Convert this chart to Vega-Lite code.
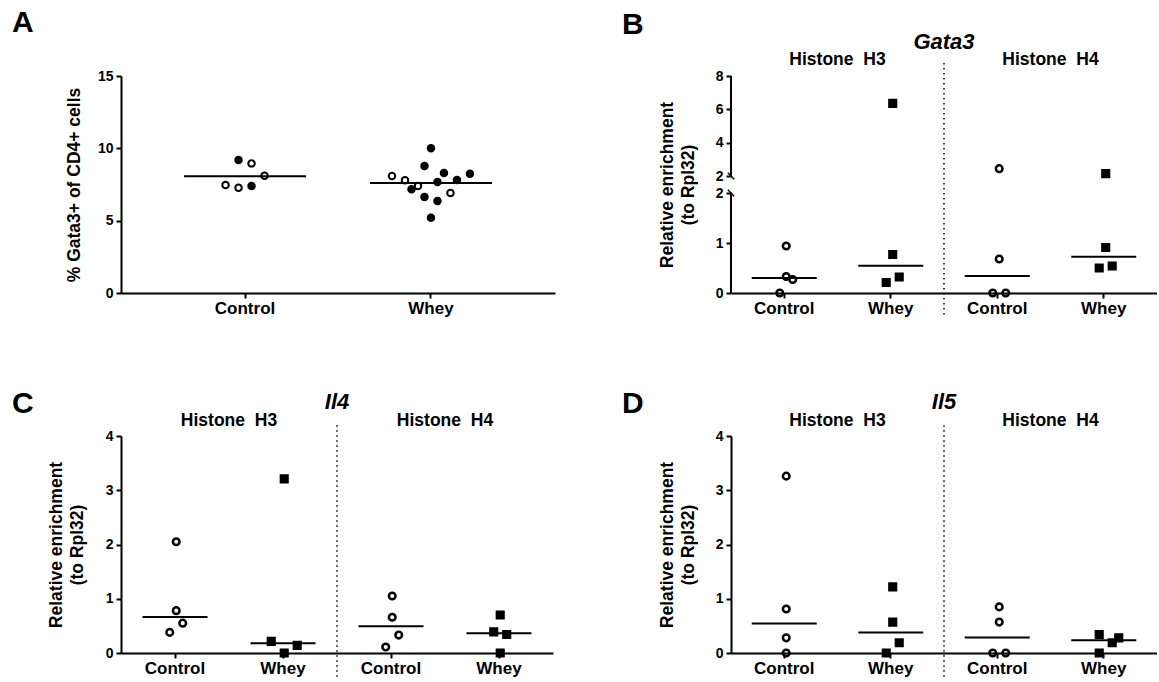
{
  "$schema": "https://vega.github.io/schema/vega-lite/v6.json",
  "background": "white",
  "padding": {"left": 12, "top": 8, "right": 0, "bottom": 0},
  "bounds": "flush",
  "columns": 2,
  "spacing": {"row": 143, "column": 176},
  "datasets": {
    "pct": [
      {"group": "Control", "cohort": "filled", "slot": -1, "pct": 9.19},
      {"group": "Control", "cohort": "open", "slot": 1, "pct": 8.96},
      {"group": "Control", "cohort": "open", "slot": 3, "pct": 8.11},
      {"group": "Control", "cohort": "open", "slot": -3, "pct": 7.47},
      {"group": "Control", "cohort": "open", "slot": -1, "pct": 7.28},
      {"group": "Control", "cohort": "filled", "slot": 1, "pct": 7.40},
      {"group": "Whey", "cohort": "filled", "slot": 0, "pct": 10.0},
      {"group": "Whey", "cohort": "filled", "slot": -1, "pct": 8.78},
      {"group": "Whey", "cohort": "filled", "slot": 2, "pct": 8.29},
      {"group": "Whey", "cohort": "filled", "slot": 6, "pct": 8.25},
      {"group": "Whey", "cohort": "open", "slot": -6, "pct": 8.09},
      {"group": "Whey", "cohort": "open", "slot": -4, "pct": 7.79},
      {"group": "Whey", "cohort": "open", "slot": -2, "pct": 7.40},
      {"group": "Whey", "cohort": "filled", "slot": -3, "pct": 7.17},
      {"group": "Whey", "cohort": "filled", "slot": 1, "pct": 7.67},
      {"group": "Whey", "cohort": "filled", "slot": 4, "pct": 7.81},
      {"group": "Whey", "cohort": "open", "slot": 3, "pct": 6.91},
      {"group": "Whey", "cohort": "filled", "slot": -1, "pct": 6.64},
      {"group": "Whey", "cohort": "filled", "slot": 1, "pct": 6.36},
      {"group": "Whey", "cohort": "filled", "slot": 0, "pct": 5.21}
    ],
    "gata3": [
      {"cond": "H3 Control", "trt": "Control", "slot": 0, "rel": 0.94},
      {"cond": "H3 Control", "trt": "Control", "slot": 0, "rel": 0.33},
      {"cond": "H3 Control", "trt": "Control", "slot": 1, "rel": 0.27},
      {"cond": "H3 Control", "trt": "Control", "slot": -1, "rel": 0.0},
      {"cond": "H3 Whey", "trt": "Whey", "slot": 0, "rel": 6.36},
      {"cond": "H3 Whey", "trt": "Whey", "slot": 0, "rel": 0.77},
      {"cond": "H3 Whey", "trt": "Whey", "slot": 1, "rel": 0.32},
      {"cond": "H3 Whey", "trt": "Whey", "slot": -1, "rel": 0.21},
      {"cond": "H4 Control", "trt": "Control", "slot": 0, "rel": 2.44},
      {"cond": "H4 Control", "trt": "Control", "slot": 0, "rel": 0.68},
      {"cond": "H4 Control", "trt": "Control", "slot": -1, "rel": 0.0},
      {"cond": "H4 Control", "trt": "Control", "slot": 1, "rel": 0.0},
      {"cond": "H4 Whey", "trt": "Whey", "slot": 0, "rel": 2.14},
      {"cond": "H4 Whey", "trt": "Whey", "slot": 0, "rel": 0.91},
      {"cond": "H4 Whey", "trt": "Whey", "slot": -1, "rel": 0.50},
      {"cond": "H4 Whey", "trt": "Whey", "slot": 1, "rel": 0.54}
    ],
    "il4": [
      {"cond": "H3 Control", "trt": "Control", "slot": 0, "rel": 2.05},
      {"cond": "H3 Control", "trt": "Control", "slot": 0, "rel": 0.78},
      {"cond": "H3 Control", "trt": "Control", "slot": 1, "rel": 0.55},
      {"cond": "H3 Control", "trt": "Control", "slot": -1, "rel": 0.38},
      {"cond": "H3 Whey", "trt": "Whey", "slot": 0, "rel": 3.21},
      {"cond": "H3 Whey", "trt": "Whey", "slot": -2, "rel": 0.215},
      {"cond": "H3 Whey", "trt": "Whey", "slot": 2, "rel": 0.14},
      {"cond": "H3 Whey", "trt": "Whey", "slot": 0, "rel": 0.0},
      {"cond": "H4 Control", "trt": "Control", "slot": 0, "rel": 1.05},
      {"cond": "H4 Control", "trt": "Control", "slot": 0, "rel": 0.66},
      {"cond": "H4 Control", "trt": "Control", "slot": 1, "rel": 0.33},
      {"cond": "H4 Control", "trt": "Control", "slot": -1, "rel": 0.11},
      {"cond": "H4 Whey", "trt": "Whey", "slot": 0, "rel": 0.70},
      {"cond": "H4 Whey", "trt": "Whey", "slot": -1, "rel": 0.39},
      {"cond": "H4 Whey", "trt": "Whey", "slot": 1, "rel": 0.34},
      {"cond": "H4 Whey", "trt": "Whey", "slot": 0, "rel": 0.0}
    ],
    "il5": [
      {"cond": "H3 Control", "trt": "Control", "slot": 0, "rel": 3.26},
      {"cond": "H3 Control", "trt": "Control", "slot": 0, "rel": 0.81},
      {"cond": "H3 Control", "trt": "Control", "slot": 0, "rel": 0.28},
      {"cond": "H3 Control", "trt": "Control", "slot": 0, "rel": 0.0},
      {"cond": "H3 Whey", "trt": "Whey", "slot": 0, "rel": 1.22},
      {"cond": "H3 Whey", "trt": "Whey", "slot": 0, "rel": 0.57},
      {"cond": "H3 Whey", "trt": "Whey", "slot": 1, "rel": 0.19},
      {"cond": "H3 Whey", "trt": "Whey", "slot": -1, "rel": 0.0},
      {"cond": "H4 Control", "trt": "Control", "slot": 0, "rel": 0.85},
      {"cond": "H4 Control", "trt": "Control", "slot": 0, "rel": 0.57},
      {"cond": "H4 Control", "trt": "Control", "slot": -1, "rel": 0.0},
      {"cond": "H4 Control", "trt": "Control", "slot": 1, "rel": 0.0},
      {"cond": "H4 Whey", "trt": "Whey", "slot": -1, "rel": 0.34},
      {"cond": "H4 Whey", "trt": "Whey", "slot": 1, "rel": 0.19},
      {"cond": "H4 Whey", "trt": "Whey", "slot": 2, "rel": 0.28},
      {"cond": "H4 Whey", "trt": "Whey", "slot": -1, "rel": 0.0}
    ],
    "headers": [
      {"h": "Histone\u00a0 H3", "at": "H3 Whey"},
      {"h": "Histone\u00a0 H4", "at": "H4 Whey"}
    ]
  },
  "concat": [
    {
      "width": 434,
      "height": 217,
      "title": {"text": "A", "dx": -109, "dy": -27},
      "data": {"name": "pct"},
      "layer": [
        {
          "mark": {"type": "tick", "color": "#000", "thickness": 2, "size": 122},
          "encoding": {
            "x": {"field": "group", "type": "nominal", "title": null, "scale": {"domain": ["Control", "Whey"], "paddingInner": 0.406, "paddingOuter": 0.37}},
            "y": {"aggregate": "mean", "field": "pct", "type": "quantitative", "title": "% Gata3+ of CD4+ cells", "scale": {"domain": [0, 15], "nice": false}, "axis": {"values": [0, 5, 10, 15], "titlePadding": 14}}
          }
        },
        {
          "mark": {"type": "point", "shape": "circle", "size": 42, "stroke": "#000", "strokeWidth": 2, "opacity": 1},
          "encoding": {
            "x": {"field": "group", "type": "nominal", "title": null},
            "xOffset": {"field": "slot", "type": "ordinal", "scale": {"type": "point", "domain": [-8, -7, -6, -5, -4, -3, -2, -1, 0, 1, 2, 3, 4, 5, 6, 7, 8], "padding": 0.5}},
            "y": {"field": "pct", "type": "quantitative", "title": "% Gata3+ of CD4+ cells"},
            "fill": {"field": "cohort", "type": "nominal", "scale": {"domain": ["open", "filled"], "range": ["transparent", "#000"]}, "legend": null}
          }
        }
      ]
    },
    {
      "width": 426,
      "height": 217,
      "title": {"text": "B", "dx": -109, "dy": 13},
      "layer": [
        {
          "data": {"name": "gata3"},
          "mark": {"type": "tick", "color": "#000", "thickness": 2, "size": 65},
          "encoding": {
            "x": {"field": "cond", "type": "nominal", "title": null, "scale": {"domain": ["H3 Control", "H3 Whey", "H4 Control", "H4 Whey"], "paddingInner": 0, "paddingOuter": 0}, "axis": {"labelExpr": "split(datum.label, ' ')[1]"}},
            "y": {"aggregate": "median", "field": "rel", "type": "quantitative", "title": ["Relative enrichment", "(to Rpl32)"], "scale": {"domain": [0, 2, 2.0001, 8], "range": [217, 117, 100, 0], "nice": false, "zero": false}, "axis": {"values": [0, 1, 2, 2.0001, 4, 6, 8], "tickCount": 20, "format": "d", "domain": false, "titlePadding": 18}}
          }
        },
        {
          "data": {"name": "gata3"},
          "mark": {"type": "point", "size": 44, "stroke": "#000", "strokeWidth": 2.5, "opacity": 1},
          "encoding": {
            "x": {"field": "cond", "type": "nominal", "title": null},
            "xOffset": {"field": "slot", "type": "ordinal", "scale": {"type": "point", "domain": [-8, -7, -6, -5, -4, -3, -2, -1, 0, 1, 2, 3, 4, 5, 6, 7, 8], "padding": 0.5}},
            "y": {"field": "rel", "type": "quantitative", "title": ["Relative enrichment", "(to Rpl32)"]},
            "shape": {"field": "trt", "type": "nominal", "scale": {"domain": ["Control", "Whey"], "range": ["circle", "square"]}, "legend": null},
            "fill": {"field": "trt", "type": "nominal", "scale": {"domain": ["Control", "Whey"], "range": ["transparent", "#000"]}, "legend": null}
          }
        },
        {
          "data": {"values": [{}]},
          "mark": {"type": "rule", "color": "#000", "strokeWidth": 2},
          "encoding": {
            "x": {"datum": "H3 Control", "type": "nominal", "bandPosition": 0},
            "y": {"datum": 0, "type": "quantitative"},
            "y2": {"datum": 2}
          }
        },
        {
          "data": {"values": [{}]},
          "mark": {"type": "rule", "color": "#000", "strokeWidth": 2},
          "encoding": {
            "x": {"datum": "H3 Control", "type": "nominal", "bandPosition": 0},
            "y": {"datum": 2.0001, "type": "quantitative"},
            "y2": {"datum": 8}
          }
        },
        {
          "data": {"values": [{}]},
          "mark": {"type": "point", "shape": "M-1,-1L1,1", "size": 40, "stroke": "#000", "strokeWidth": 1.5, "filled": false, "opacity": 1},
          "encoding": {
            "x": {"datum": "H3 Control", "type": "nominal", "bandPosition": 0},
            "y": {"datum": 2.0001, "type": "quantitative"}
          }
        },
        {
          "data": {"values": [{}]},
          "mark": {"type": "point", "shape": "M-1,-1L1,1", "size": 40, "stroke": "#000", "strokeWidth": 1.5, "filled": false, "opacity": 1},
          "encoding": {
            "x": {"datum": "H3 Control", "type": "nominal", "bandPosition": 0},
            "y": {"datum": 2, "type": "quantitative"}
          }
        },
        {
          "data": {"values": [{}]},
          "mark": {"type": "rule", "color": "#000", "strokeWidth": 1.5, "strokeDash": [1.5, 3.5]},
          "encoding": {
            "x": {"datum": "H4 Control", "type": "nominal", "bandPosition": 0},
            "y": {"datum": 8.78, "type": "quantitative"},
            "y2": {"datum": -0.5}
          }
        },
        {
          "data": {"name": "headers"},
          "mark": {"type": "text", "font": "Liberation Sans", "fontWeight": "bold", "fontSize": 17.5, "color": "#000", "align": "center", "baseline": "alphabetic"},
          "encoding": {
            "x": {"field": "at", "type": "nominal", "bandPosition": 0, "title": null},
            "y": {"datum": 8.66, "type": "quantitative"},
            "text": {"field": "h"}
          }
        },
        {
          "data": {"values": [{"gene": "Gata3"}]},
          "mark": {"type": "text", "font": "Liberation Sans", "fontWeight": "bold", "fontStyle": "italic", "fontSize": 22, "color": "#000", "align": "center", "baseline": "alphabetic"},
          "encoding": {
            "x": {"datum": "H4 Control", "type": "nominal", "bandPosition": 0},
            "y": {"datum": 9.62, "type": "quantitative"},
            "text": {"field": "gene"}
          }
        }
      ]
    },
    {
      "width": 432,
      "height": 217,
      "title": {"text": "C", "dx": -109, "dy": 32},
      "layer": [
        {
          "data": {"name": "il4"},
          "mark": {"type": "tick", "color": "#000", "thickness": 2, "size": 65},
          "encoding": {
            "x": {"field": "cond", "type": "nominal", "title": null, "scale": {"domain": ["H3 Control", "H3 Whey", "H4 Control", "H4 Whey"], "paddingInner": 0, "paddingOuter": 0}, "axis": {"labelExpr": "split(datum.label, ' ')[1]"}},
            "y": {"aggregate": "median", "field": "rel", "type": "quantitative", "title": ["Relative enrichment", "(to Rpl32)"], "scale": {"domain": [0, 4], "nice": false}, "axis": {"values": [0, 1, 2, 3, 4], "format": "d", "titlePadding": 19}}
          }
        },
        {
          "data": {"name": "il4"},
          "mark": {"type": "point", "size": 44, "stroke": "#000", "strokeWidth": 2.5, "opacity": 1},
          "encoding": {
            "x": {"field": "cond", "type": "nominal", "title": null},
            "xOffset": {"field": "slot", "type": "ordinal", "scale": {"type": "point", "domain": [-8, -7, -6, -5, -4, -3, -2, -1, 0, 1, 2, 3, 4, 5, 6, 7, 8], "padding": 0.5}},
            "y": {"field": "rel", "type": "quantitative", "title": ["Relative enrichment", "(to Rpl32)"]},
            "shape": {"field": "trt", "type": "nominal", "scale": {"domain": ["Control", "Whey"], "range": ["circle", "square"]}, "legend": null},
            "fill": {"field": "trt", "type": "nominal", "scale": {"domain": ["Control", "Whey"], "range": ["transparent", "#000"]}, "legend": null}
          }
        },
        {
          "data": {"values": [{}]},
          "mark": {"type": "rule", "color": "#000", "strokeWidth": 1.5, "strokeDash": [1.5, 3.5]},
          "encoding": {
            "x": {"datum": "H4 Control", "type": "nominal", "bandPosition": 0},
            "y": {"datum": 4.2, "type": "quantitative"},
            "y2": {"datum": -0.5}
          }
        },
        {
          "data": {"name": "headers"},
          "mark": {"type": "text", "font": "Liberation Sans", "fontWeight": "bold", "fontSize": 17.5, "color": "#000", "align": "center", "baseline": "alphabetic"},
          "encoding": {
            "x": {"field": "at", "type": "nominal", "bandPosition": 0, "title": null},
            "y": {"datum": 4.18, "type": "quantitative"},
            "text": {"field": "h"}
          }
        },
        {
          "data": {"values": [{"gene": "Il4"}]},
          "mark": {"type": "text", "font": "Liberation Sans", "fontWeight": "bold", "fontStyle": "italic", "fontSize": 22, "color": "#000", "align": "center", "baseline": "alphabetic"},
          "encoding": {
            "x": {"datum": "H4 Control", "type": "nominal", "bandPosition": 0},
            "y": {"datum": 4.5, "type": "quantitative"},
            "text": {"field": "gene"}
          }
        }
      ]
    },
    {
      "width": 426,
      "height": 217,
      "title": {"text": "D", "dx": -109, "dy": 32},
      "layer": [
        {
          "data": {"name": "il5"},
          "mark": {"type": "tick", "color": "#000", "thickness": 2, "size": 65},
          "encoding": {
            "x": {"field": "cond", "type": "nominal", "title": null, "scale": {"domain": ["H3 Control", "H3 Whey", "H4 Control", "H4 Whey"], "paddingInner": 0, "paddingOuter": 0}, "axis": {"labelExpr": "split(datum.label, ' ')[1]"}},
            "y": {"aggregate": "median", "field": "rel", "type": "quantitative", "title": ["Relative enrichment", "(to Rpl32)"], "scale": {"domain": [0, 4], "nice": false}, "axis": {"values": [0, 1, 2, 3, 4], "format": "d", "titlePadding": 18}}
          }
        },
        {
          "data": {"name": "il5"},
          "mark": {"type": "point", "size": 44, "stroke": "#000", "strokeWidth": 2.5, "opacity": 1},
          "encoding": {
            "x": {"field": "cond", "type": "nominal", "title": null},
            "xOffset": {"field": "slot", "type": "ordinal", "scale": {"type": "point", "domain": [-8, -7, -6, -5, -4, -3, -2, -1, 0, 1, 2, 3, 4, 5, 6, 7, 8], "padding": 0.5}},
            "y": {"field": "rel", "type": "quantitative", "title": ["Relative enrichment", "(to Rpl32)"]},
            "shape": {"field": "trt", "type": "nominal", "scale": {"domain": ["Control", "Whey"], "range": ["circle", "square"]}, "legend": null},
            "fill": {"field": "trt", "type": "nominal", "scale": {"domain": ["Control", "Whey"], "range": ["transparent", "#000"]}, "legend": null}
          }
        },
        {
          "data": {"values": [{}]},
          "mark": {"type": "rule", "color": "#000", "strokeWidth": 1.5, "strokeDash": [1.5, 3.5]},
          "encoding": {
            "x": {"datum": "H4 Control", "type": "nominal", "bandPosition": 0},
            "y": {"datum": 4.2, "type": "quantitative"},
            "y2": {"datum": -0.5}
          }
        },
        {
          "data": {"name": "headers"},
          "mark": {"type": "text", "font": "Liberation Sans", "fontWeight": "bold", "fontSize": 17.5, "color": "#000", "align": "center", "baseline": "alphabetic"},
          "encoding": {
            "x": {"field": "at", "type": "nominal", "bandPosition": 0, "title": null},
            "y": {"datum": 4.18, "type": "quantitative"},
            "text": {"field": "h"}
          }
        },
        {
          "data": {"values": [{"gene": "Il5"}]},
          "mark": {"type": "text", "font": "Liberation Sans", "fontWeight": "bold", "fontStyle": "italic", "fontSize": 22, "color": "#000", "align": "center", "baseline": "alphabetic"},
          "encoding": {
            "x": {"datum": "H4 Control", "type": "nominal", "bandPosition": 0},
            "y": {"datum": 4.5, "type": "quantitative"},
            "text": {"field": "gene"}
          }
        }
      ]
    }
  ],
  "config": {
    "view": {"stroke": null},
    "font": "Liberation Sans",
    "axis": {"grid": false, "domainColor": "#000", "domainWidth": 2, "tickColor": "#000", "tickWidth": 2, "tickSize": 5, "labelColor": "#000", "labelFont": "Liberation Sans", "labelFontWeight": "bold", "titleColor": "#000", "titleFont": "Liberation Sans", "titleFontWeight": "bold", "titleFontSize": 17.5, "labelOverlap": false},
    "axisX": {"labelFontSize": 17, "labelPadding": 2, "labelAngle": 0},
    "axisY": {"labelFontSize": 14, "labelPadding": 3, "titleLineHeight": 21},
    "title": {"font": "Liberation Sans", "fontSize": 30, "fontWeight": "bold", "color": "#000", "anchor": "start", "frame": "group"}
  }
}
